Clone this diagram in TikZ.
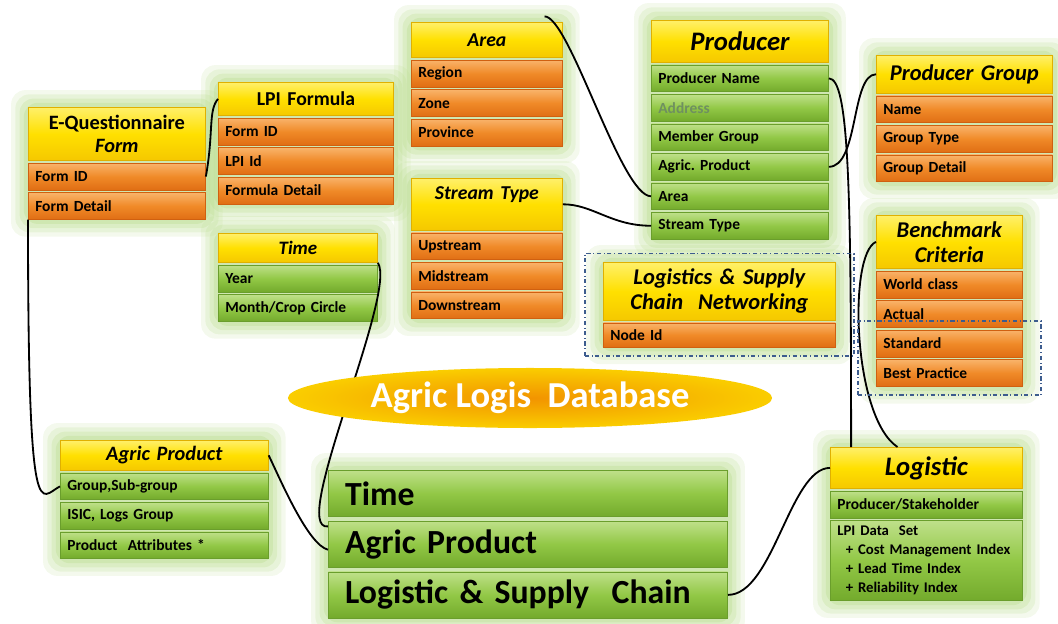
\documentclass[tikz,border=0pt]{standalone}
\usepackage{fontspec}
\setmainfont{Carlito}
\usepackage{tikz}
\usetikzlibrary{shapes,positioning,fit,backgrounds}

\definecolor{hdrtop}{HTML}{FFF06A}
\definecolor{hdrmid}{HTML}{FFE000}
\definecolor{hdrbot}{HTML}{F5C800}
\definecolor{hdrline}{HTML}{E0B000}
\definecolor{ortop}{HTML}{F9B36A}
\definecolor{ormid}{HTML}{F08A28}
\definecolor{orbot}{HTML}{E06E14}
\definecolor{orline}{HTML}{D06010}
\definecolor{grtop}{HTML}{BFE08A}
\definecolor{grmid}{HTML}{92C846}
\definecolor{grbot}{HTML}{73AA2C}
\definecolor{grline}{HTML}{6A9E2C}
\definecolor{glowgreen}{HTML}{B5DA86}
\definecolor{dashblue}{HTML}{3D5C8E}
\definecolor{addrtxt}{HTML}{6F9060}
\definecolor{dbor}{HTML}{F29400}
\definecolor{dbmix}{HTML}{F7B800}
\definecolor{dbyel}{HTML}{FFEC00}
\pgfdeclareradialshading{dbshade}{\pgfpoint{0bp}{0bp}}{color(0bp)=(dbor); color(16bp)=(dbmix); color(38bp)=(dbyel); color(50bp)=(dbyel)}

\newcommand{\rowfont}{\fontsize{11}{13.5}\selectfont\bfseries}
\newcommand{\hdrfont}[2]{\fontsize{#1}{#2}\selectfont\bfseries\itshape}

\begin{document}
\frenchspacing
\begin{tikzpicture}[x=0.025cm, y=-0.025cm,
hdr/.style={rectangle, draw=hdrline, top color=hdrtop, bottom color=hdrbot, middle color=hdrmid, align=center, text width=#1, inner xsep=5pt, inner ysep=1pt, anchor=north west},
orow/.style={rectangle, draw=orline, top color=ortop, bottom color=orbot, middle color=ormid, align=left, text width=#1, inner xsep=5pt, inner ysep=1pt, minimum height=0.67cm, font=\rowfont},
grow/.style={rectangle, draw=grline, top color=grtop, bottom color=grbot, middle color=grmid, align=left, text width=#1, inner xsep=5pt, inner ysep=1pt, minimum height=0.67cm, font=\rowfont},
bigrow/.style={grow=9.14cm, inner xsep=12pt, minimum height=1.15cm, font=\fontsize{24}{28}\selectfont\bfseries},
glowbox/.style={rectangle, rounded corners=10pt, fill=glowgreen, draw=none},
dashbox/.style={rectangle, draw=dashblue, dash dot, line width=1.3pt},
link/.style={draw=black, line width=1.3pt},
dbnode/.style={ellipse, minimum width=12.1cm, minimum height=1.5cm, shade, shading=dbshade, text=white, font=\fontsize{26}{30}\selectfont\bfseries},
]
\useasboundingbox (0,0) rectangle (1058,624);

%Nodes
\node[hdr=4.08cm, minimum height=1.33cm, font=\hdrfont{14.5}{16}\upshape](eqH) at (28,107){E-Questionnaire\\\textit{Form}};
\node[orow=4.08cm, below=1.5pt of eqH](eqFormID){Form ID};
\node[orow=4.08cm, below=1.5pt of eqFormID](eqDetail){Form Detail};

\node[hdr=4.03cm, minimum height=0.83cm, font=\hdrfont{14}{16}\upshape](lpiH) at (218,82){LPI Formula};
\node[orow=4.03cm, below=1.5pt of lpiH](lpiFormID){Form ID};
\node[orow=4.03cm, below=1.5pt of lpiFormID](lpiId){LPI Id};
\node[orow=4.03cm, below=1.5pt of lpiId](lpiDetail){Formula Detail};

\node[hdr=3.43cm, minimum height=0.88cm, font=\hdrfont{14}{16}](areaH) at (411,22){Area};
\node[orow=3.43cm, below=1.5pt of areaH](areaRegion){Region};
\node[orow=3.43cm, below=1.5pt of areaRegion](areaZone){Zone};
\node[orow=3.43cm, below=1.5pt of areaZone](areaProvince){Province};

\node[hdr=4.08cm, minimum height=1.05cm, font=\hdrfont{19}{21}](prodH) at (651,20){Producer};
\node[grow=4.08cm, below=1.5pt of prodH](prodName){Producer Name};
\node[grow=4.08cm, below=1.5pt of prodName, text=addrtxt](prodAddr){Address};
\node[grow=4.08cm, below=1.5pt of prodAddr](prodMember){Member Group};
\node[grow=4.08cm, below=1.5pt of prodMember](prodAgric){Agric. Product};
\node[grow=4.08cm, below=1.5pt of prodAgric](prodArea){Area};
\node[grow=4.08cm, below=1.5pt of prodArea](prodStream){Stream Type};

\node[hdr=4.05cm, minimum height=0.95cm, font=\hdrfont{16}{18}](pgH) at (876,55){Producer Group};
\node[orow=4.05cm, below=1.5pt of pgH](pgName){Name};
\node[orow=4.05cm, below=1.5pt of pgName](pgType){Group Type};
\node[orow=4.05cm, below=1.5pt of pgType](pgDetail){Group Detail};

\node[hdr=3.43cm, minimum height=1.3cm, font=\hdrfont{14}{16}](stH) at (411,178){Stream Type\\~};
\node[orow=3.43cm, below=1.5pt of stH](stUp){Upstream};
\node[orow=3.43cm, below=1.5pt of stUp](stMid){Midstream};
\node[orow=3.43cm, below=1.5pt of stMid](stDown){Downstream};

\node[hdr=3.63cm, minimum height=0.73cm, font=\hdrfont{13.5}{15}](timeH) at (218,233){Time};
\node[grow=3.63cm, below=1.5pt of timeH](timeYear){Year};
\node[grow=3.63cm, below=1.5pt of timeYear](timeMonth){Month/Crop Circle};

\node[hdr=5.45cm, minimum height=1.45cm, font=\hdrfont{16}{18}](netH) at (603,262){Logistics \& Supply\\Chain~~Networking};
\node[orow=5.45cm, below=1.5pt of netH, minimum height=0.6cm](netNode){Node Id};

\node[hdr=3.3cm, minimum height=1.33cm, font=\hdrfont{16}{18}](bmH) at (876,215){Benchmark\\Criteria};
\node[orow=3.3cm, below=1.5pt of bmH](bmWorld){World class};
\node[orow=3.3cm, below=1.5pt of bmWorld](bmActual){Actual};
\node[orow=3.3cm, below=1.5pt of bmActual](bmStandard){Standard};
\node[orow=3.3cm, below=1.5pt of bmStandard](bmBest){Best Practice};

\node[hdr=4.85cm, minimum height=0.75cm, font=\hdrfont{14.5}{16}](agrH) at (60,440){Agric Product};
\node[grow=4.85cm, below=1.5pt of agrH](agrGroup){Group,Sub-group};
\node[grow=4.85cm, below=1.5pt of agrGroup](agrISIC){ISIC, Logs Group};
\node[grow=4.85cm, below=1.5pt of agrISIC](agrAttr){Product~~Attributes *};

\node[bigrow, anchor=north west](bigTime) at (328,470){Time};
\node[bigrow, below=3pt of bigTime](bigAgric){Agric Product};
\node[bigrow, below=3pt of bigAgric](bigLogis){Logistic \& Supply~~Chain};

\node[hdr=4.45cm, minimum height=1.03cm, font=\hdrfont{19}{21}](logH) at (830,447){Logistic};
\node[grow=4.45cm, below=1.5pt of logH](logProducer){Producer/Stakeholder};
\node[grow=4.45cm, below=1.5pt of logProducer, minimum height=2.0cm, font=\fontsize{10.5}{13.5}\selectfont\bfseries](logLPI){LPI Data~~Set\\\hspace*{6pt}+ Cost Management Index\\\hspace*{6pt}+ Lead Time Index\\\hspace*{6pt}+ Reliability Index};

%Glow
\begin{scope}[on background layer]
\foreach \a/\b in {eqH/eqDetail, lpiH/lpiDetail, areaH/areaProvince, prodH/prodStream, pgH/pgDetail, stH/stDown, timeH/timeMonth, netH/netNode, bmH/bmBest, agrH/agrAttr, bigTime/bigLogis, logH/logLPI}{
  \foreach \s/\o in {12/.15, 9/.2, 6/.25, 3/.3}{
    \node[glowbox, opacity=\o, inner sep=\s pt, fit=(\a)(\b)](glow-\a-\s){};
  }
}
\end{scope}

%Lines
\draw[link] (eqFormID.east) .. controls +(8,-45) and +(-10,12) .. (lpiH.west);
\draw[link] (eqDetail.south west) .. controls +(0,320) and +(-20,10) .. (agrGroup.west);
\draw[link] ([xshift=-13pt,yshift=4pt]areaH.north east) .. controls +(25,0) and +(-30,0) .. (prodArea.west);
\draw[link] (stH.east) .. controls +(30,0) and +(-40,0) .. (prodStream.west);
\draw[link] (prodName.east) .. controls +(20,0) and +(0,-260) .. ([xshift=15pt]logH.north west);
\draw[link] (prodAgric.east) .. controls +(30,0) and +(-25,0) .. (pgH.west);
\draw[link] (bmH.west) .. controls +(-28,12) and +(-45,-30) .. ([xshift=48pt]logH.north west);
\draw[link] (timeH.south east) .. controls +(20,30) and +(-40,5) .. ([yshift=-4pt]bigAgric.north west);
\draw[link] (agrH.east) .. controls +(12,25) and +(-20,-5) .. ([yshift=-4pt]bigAgric.west);
\draw[link] (bigLogis.east) .. controls +(45,0) and +(-40,0) .. (logH.west);

%Database label
\node[dbnode](db) at (530,398){Agric Logis~~Database};

%Dashed groups
\node[dashbox, inner xsep=13pt, inner ysep=6pt, fit=(netH)(netNode)](netBox){};
\node[dashbox, inner xsep=13pt, inner ysep=6pt, fit=(bmStandard)(bmBest)](bmBox){};
\end{tikzpicture}
\end{document}
